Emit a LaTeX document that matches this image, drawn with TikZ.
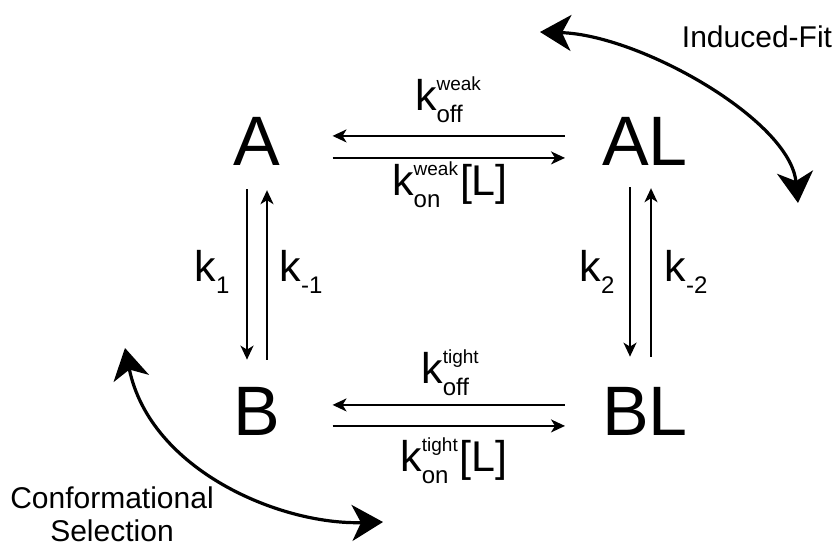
\documentclass[tikz,border=0pt]{standalone}
\usepackage{fontspec}
\setmainfont{Liberation Sans}
\usetikzlibrary{arrows.meta,calc}

\newcommand\supfont{\fontsize{19}{19}\selectfont}
\newcommand\subfont{\fontsize{24}{24}\selectfont}
% k with stacked super- and subscript
\newcommand\rate[2]{k\sbox0{\supfont #1}\sbox2{\subfont #2}%
  \rlap{\raisebox{20pt}{\usebox0}}\raisebox{-12pt}{\usebox2}%
  \ifdim\wd0>\wd2 \kern\dimexpr\wd0-\wd2\relax\fi}

\begin{document}
\begin{tikzpicture}[x=1pt,y=-1pt,
  species/.style={font=\fontsize{70}{80}\selectfont,inner sep=0pt,anchor=base},
  ratelbl/.style={font=\fontsize{43}{48}\selectfont,inner sep=0pt,anchor=base},
  caption/.style={font=\fontsize{30}{33}\selectfont,inner sep=0pt,align=center},
  rxn/.style={line width=1.9pt,-{Stealth[length=14pt,width=13pt,inset=4pt]}},
  swing/.style={line width=3.2pt,
    {Stealth[length=31pt,width=36pt,inset=9pt]}-{Stealth[length=31pt,width=36pt,inset=9pt]}}]
  \useasboundingbox (0,0) rectangle (837,549);
  % the four states
  \node[species] (A)  at (257,165) {A};
  \node[species] (AL) at (645,165) {AL};
  \node[species] (B)  at (257,435) {B};
  \node[species] (BL) at (645,435) {BL};
  % ligand binding, top and bottom
  \draw[rxn] ($(AL.west)+(-37,-5)$) -- ($(A.east)+(52,-5)$);
  \draw[rxn] ($(A.east)+(52,17)$) -- ($(AL.west)+(-37,17)$);
  \draw[rxn] ($(BL.west)+(-37,-6)$) -- ($(B.east)+(52,-6)$);
  \draw[rxn] ($(B.east)+(52,15)$) -- ($(BL.west)+(-37,15)$);
  % conformational change, left and right
  \draw[rxn] ($(A.south)+(-10,24)$) -- ($(B.north)+(-10,-27)$);
  \draw[rxn] ($(B.north)+(10,-27)$) -- ($(A.south)+(10,25)$);
  \draw[rxn] ($(AL.south)+(-15,22)$) -- ($(BL.north)+(-15,-30)$);
  \draw[rxn] ($(BL.north)+(6,-30)$) -- ($(AL.south)+(6,23)$);
  % rate constants
  \node[ratelbl] (koffw) at (448,110) {\rate{weak}{off}};
  \node[ratelbl] (konw)  at (450,195) {\rate{weak}{on}\kern2pt[L]};
  \node[ratelbl] (kofft) at (450,383) {\rate{tight}{off}};
  \node[ratelbl] (kont)  at (454,471) {\rate{tight}{on}\kern2pt[L]};
  \node[ratelbl] (k1)  at (212,281) {\rate{}{1}};
  \node[ratelbl] (km1) at (301,281) {\rate{}{-1}};
  \node[ratelbl] (k2)  at (597,281) {\rate{}{2}};
  \node[ratelbl] (km2) at (686,281) {\rate{}{-2}};
  % the two pathways
  \coordinate (fitA) at (540,32);
  \coordinate (fitB) at (798,203);
  \draw[swing] (fitA) .. controls (640,35) and (790,120) .. (fitB);
  \node[caption,anchor=base] (fit) at (757,47) {Induced-Fit};
  \coordinate (selA) at (125,348);
  \coordinate (selB) at (383,522);
  \draw[swing] (selA) .. controls (150,470) and (280,525) .. (selB);
  \node[caption,anchor=north] (sel) at (112,487) {Conformational\\Selection};
\end{tikzpicture}
\end{document}
